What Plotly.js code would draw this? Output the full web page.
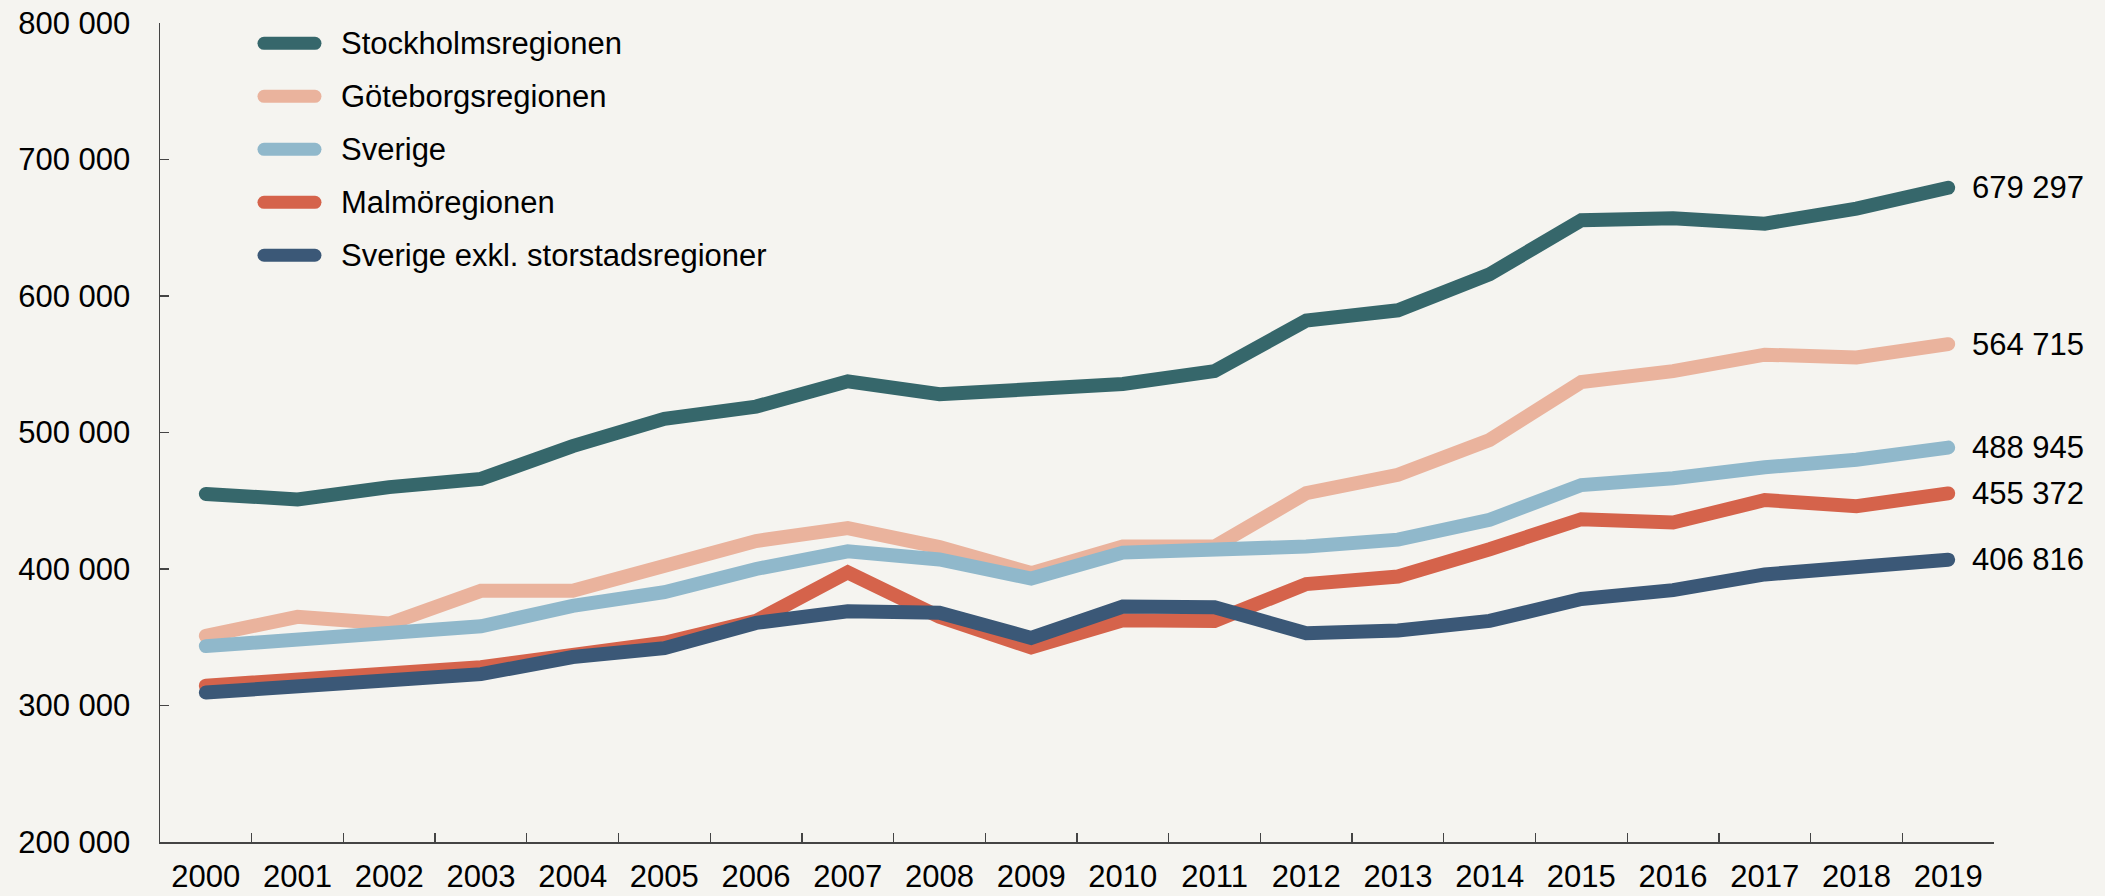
<!DOCTYPE html>
<html>
<head>
<meta charset="utf-8">
<script src="https://cdn.plot.ly/plotly-3.0.1.min.js"></script>
<style>
  html, body { margin: 0; padding: 0; background: #F5F4F0; }
  #chart { width: 2105px; height: 896px; }
  .scatterlayer .js-line { stroke-linecap: round; }
  .shapelayer path { stroke-linecap: round; }
</style>
</head>
<body>
<div id="chart"></div>
<script>
const years = ['2000','2001','2002','2003','2004','2005','2006','2007','2008','2009',
               '2010','2011','2012','2013','2014','2015','2016','2017','2018','2019'];

const seriesNames = ['Stockholmsregionen', 'Göteborgsregionen', 'Sverige', 'Malmöregionen',
                     'Sverige exkl. storstadsregioner'];

const stockholm = [455000, 451000, 460000, 466000, 490000, 510000, 519000, 537500, 528000, 531500,
                   535500, 545000, 582000, 589500, 616000, 655500, 657000, 653000, 664000, 679297];
const goteborg  = [351000, 365000, 360000, 384000, 384000, 401000, 420500, 430000, 416000, 397000,
                   416500, 416500, 455500, 469000, 494500, 537000, 545000, 557000, 555000, 564715];
const sverige   = [343500, 348000, 352000, 358000, 373000, 383000, 400000, 413000, 407000, 393000,
                   412000, 413500, 416500, 421500, 436000, 461500, 466500, 474500, 480000, 488945];
const malmo     = [314500, 318500, 324500, 328000, 337000, 346000, 362000, 397500, 365000, 342500,
                   362500, 362000, 389000, 394500, 414500, 436500, 434000, 450500, 446000, 455372];
const exkl      = [309500, 315000, 318500, 323000, 335500, 342000, 360500, 369000, 368000, 349500,
                   372500, 372000, 353000, 355000, 362000, 378000, 384500, 396000, 401500, 406816];

const yTicks = [200000, 300000, 400000, 500000, 600000, 700000, 800000];

const seriesValues = [stockholm, goteborg, sverige, malmo, exkl];
const colors = ['#36676B', '#EAB39D', '#90B8CB', '#D5634B', '#3B5877'];

const FONT = '"Liberation Sans", Arial, sans-serif';
const fmt = v => String(Math.round(v)).replace(/\B(?=(\d{3})+(?!\d))/g, ' ');

const traces = seriesValues.map((vals, i) => ({
  type: 'scatter',
  mode: 'lines',
  name: seriesNames[i],
  x: years,
  y: vals,
  line: { color: colors[i], width: 14 },
  showlegend: false,
  hoverinfo: 'skip'
}));

// End-of-line value labels (anchored at the last category of each series)
const lastIdx = years.length - 1;
const annotations = seriesValues.map((vals, i) => ({
  xref: 'x', yref: 'y',
  x: lastIdx,
  y: vals[lastIdx],
  text: fmt(vals[lastIdx]),
  showarrow: false,
  xanchor: 'left', yanchor: 'middle',
  xshift: 22,
  font: { family: FONT, size: 31, color: '#000' }
}));

// Manual legend (samples + text), in paper coordinates
const legX0 = 0.0567, legX1 = 0.0845, legTextX = 0.0976;
const legTop = 0.9752, legStep = 0.0647;
const shapes = [];
seriesNames.forEach((name, i) => {
  const y = legTop - i * legStep;
  shapes.push({
    type: 'line', xref: 'paper', yref: 'paper',
    x0: legX0, x1: legX1, y0: y, y1: y,
    line: { color: colors[i], width: 13 }
  });
  annotations.push({
    xref: 'paper', yref: 'paper',
    x: legTextX, y: y,
    text: name, showarrow: false,
    xanchor: 'left', yanchor: 'middle',
    font: { family: FONT, size: 31, color: '#000' }
  });
});

const layout = {
  width: 2105, height: 896,
  paper_bgcolor: '#F5F4F0',
  plot_bgcolor: '#F5F4F0',
  margin: { l: 160, r: 111, t: 23, b: 54, pad: 0 },
  separators: ', ',
  showlegend: false,
  font: { family: FONT, size: 31, color: '#000' },
  xaxis: {
    type: 'category',
    categoryorder: 'array',
    categoryarray: years,
    range: [-0.5, years.length - 0.5],
    tickson: 'boundaries',
    ticks: 'inside',
    ticklen: 9,
    tickwidth: 1.3,
    tickcolor: '#444',
    showline: true,
    linecolor: '#444',
    linewidth: 1.5,
    showgrid: false,
    zeroline: false,
    ticklabelstandoff: 6,
    tickfont: { family: FONT, size: 31, color: '#000' },
    fixedrange: true
  },
  yaxis: {
    range: [yTicks[0], yTicks[yTicks.length - 1]],
    tickmode: 'array',
    tickvals: yTicks,
    ticktext: yTicks.map(fmt),
    ticks: 'inside',
    ticklen: 9,
    tickwidth: 1.3,
    tickcolor: '#444',
    showline: true,
    linecolor: '#444',
    linewidth: 1.5,
    showgrid: false,
    zeroline: false,
    ticklabelstandoff: 22,
    tickfont: { family: FONT, size: 31, color: '#000' },
    fixedrange: true
  },
  shapes: shapes,
  annotations: annotations
};

Plotly.newPlot('chart', traces, layout, { displayModeBar: false, staticPlot: true });
</script>
</body>
</html>
